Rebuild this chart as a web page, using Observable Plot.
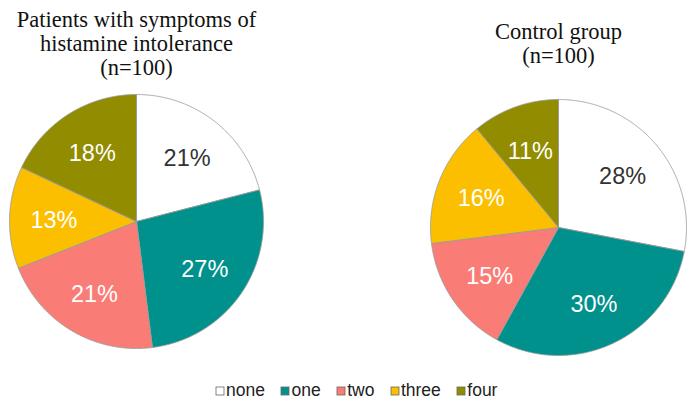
<!DOCTYPE html>
<html><head><meta charset="utf-8">
<script src="https://cdn.jsdelivr.net/npm/d3@7"></script>
<script src="https://cdn.jsdelivr.net/npm/@observablehq/plot@0.6"></script>
<style>
body{margin:0;background:#fff;}
#chart{width:694px;}
#chart svg{display:block;}
.lg-swatches-wrap{justify-content:center !important; min-height:0 !important;}
.lg-swatch{margin-right:16.5px !important;}
.lg-swatch > svg{margin-right:2px !important;}
.lg-swatch > svg rect{stroke:#666;stroke-width:0.8px;}
</style></head><body><div id="chart"></div>
<script>
const categories = ["none", "one", "two", "three", "four"];
const colors = ["#ffffff", "#00918c", "#f97c76", "#fbbf00", "#918c00"];
const groupNames = ["patients", "control"];
const titles = ["Patients with symptoms of\nhistamine intolerance\n(n=100)", "Control group\n(n=100)"];
const patientsValues = [21, 27, 21, 13, 18];
const controlValues = [28, 30, 15, 16, 11];
const labelColors = ["#333333", "#ffffff", "#ffffff", "#ffffff", "#ffffff"];

// layout (pixel units of the linear x/y scales)
const W = 694, H = 370;
const layout = [
  {cx: 136, cy: 221, r: 127, titleY: 74},
  {cx: 558, cy: 227, r: 128, titleY: 62}
];
const valuesByGroup = [patientsValues, controlValues];

const polyPts = [];
const labels = [];
const titleRows = [];
groupNames.forEach((g, gi) => {
  const {cx, cy, r, titleY} = layout[gi];
  const arcs = d3.pie().sort(null).value(d => d)(valuesByGroup[gi]);
  arcs.forEach((a, i) => {
    const id = g + "-" + i;
    const cat = categories[i];
    polyPts.push({id, cat, x: cx, y: cy});
    const n = Math.max(2, Math.ceil((a.endAngle - a.startAngle) / 0.005));
    for (let k = 0; k <= n; k++) {
      const t = a.startAngle + (a.endAngle - a.startAngle) * k / n;
      polyPts.push({id, cat, x: cx + r * Math.sin(t), y: cy - r * Math.cos(t)});
    }
    polyPts.push({id, cat, x: cx, y: cy});
    const m = (a.startAngle + a.endAngle) / 2;
    const lr = 0.65 * r;
    labels.push({text: a.data + "%", x: cx + lr * Math.sin(m), y: cy - lr * Math.cos(m) + 2, color: labelColors[i]});
  });
  titleRows.push({text: titles[gi], x: cx, y: titleY});
});

const plot = Plot.plot({
  width: W, height: H,
  margin: 0,
  x: {domain: [0, W], range: [0, W], axis: null},
  y: {domain: [0, H], range: [0, H], axis: null},
  color: {domain: categories, range: colors},
  style: {background: "#fff"},
  marks: [
    Plot.line(polyPts, {x: "x", y: "y", z: "id", fill: "cat", stroke: "#9b9b9b", strokeWidth: 0.9, strokeLinejoin: "round"}),
    Plot.text(labels, {x: "x", y: "y", text: "text", fill: d => d.color, fontSize: 23.5, fontFamily: "Liberation Sans, Helvetica, Arial, sans-serif", textAnchor: "middle"}),
    Plot.text(titleRows, {x: "x", y: "y", text: "text", fill: "#111", fontSize: 22.5, lineHeight: 1.045, lineAnchor: "bottom", fontFamily: "Liberation Serif, Times New Roman, serif", textAnchor: "middle"})
  ]
});

const legend = plot.legend("color", {
  className: "lg",
  swatchSize: 8,
  style: {fontSize: "17.5px", fontFamily: "Liberation Sans, Helvetica, Arial, sans-serif", color: "#222", marginTop: "10px", paddingLeft: "36px"}
});
const chart = document.getElementById("chart");
chart.appendChild(plot);
chart.appendChild(legend);
</script></body></html>
